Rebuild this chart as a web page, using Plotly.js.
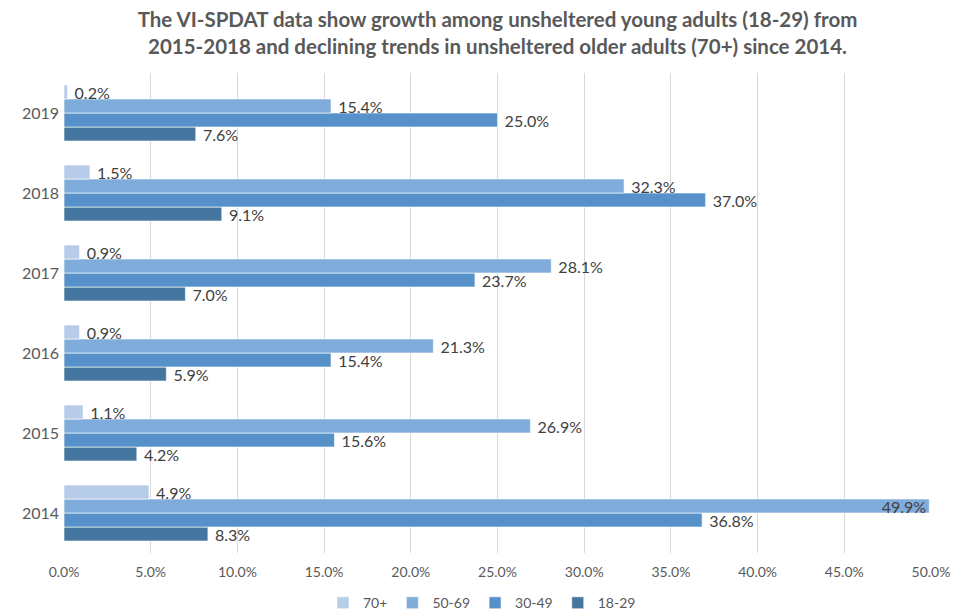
<!DOCTYPE html>
<html>
<head>
<meta charset="utf-8">
<script src="https://cdn.plot.ly/plotly-3.0.1.min.js"></script>
<style>html,body{margin:0;padding:0;background:#fff;}#chart{width:964px;height:613px;}</style>
</head>
<body>
<div id="chart"></div>
<script>
const years = ["2014", "2015", "2016", "2017", "2018", "2019"];
const age18_29 = [8.3, 4.2, 5.9, 7.0, 9.1, 7.6];
const age30_49 = [36.8, 15.6, 15.4, 23.7, 37.0, 25.0];
const age50_69 = [49.9, 26.9, 21.3, 28.1, 32.3, 15.4];
const age70plus = [4.9, 1.1, 0.9, 0.9, 1.5, 0.2];
const seriesNames = ["18-29", "30-49", "50-69", "70+"];
const seriesColors = ["#44769f", "#5692c9", "#80acdc", "#b7cce8"];
const xTicks = [0, 5, 10, 15, 20, 25, 30, 35, 40, 45, 50];
const xMax = 50;

const seriesValues = [age18_29, age30_49, age50_69, age70plus];
const traces = seriesValues.map((vals, i) => ({
  type: "bar",
  orientation: "h",
  name: seriesNames[i],
  y: years,
  x: vals,
  marker: {color: seriesColors[i], line: {color: "rgba(255,255,255,0.6)", width: 1}},
  // labels that would run past the right edge are kept inside the bar end
  text: vals.map(v => (v > xMax - 2 ? "" : "\u00a0") + v.toFixed(1) + "%"),
  textposition: vals.map(v => (v > xMax - 2 ? "inside" : "outside")),
  insidetextanchor: "end",
  constraintext: "none",
  textfont: {family: "Lato, sans-serif", size: 16, color: "#404040"},
  insidetextfont: {family: "Lato, sans-serif", size: 16, color: "#404040"},
  outsidetextfont: {family: "Lato, sans-serif", size: 16, color: "#404040"},
  cliponaxis: false,
  hoverinfo: "x+name"
}));

const layout = {
  width: 964,
  height: 613,
  paper_bgcolor: "#ffffff",
  plot_bgcolor: "#ffffff",
  margin: {l: 64, r: 33, t: 73, b: 60},
  barmode: "group",
  bargap: 0.3,
  bargroupgap: 0,
  title: {
    text: "The VI-SPDAT data show growth among unsheltered young adults (18-29) from<br>2015-2018 and declining trends in unsheltered older adults (70+) since 2014.",
    font: {family: "Lato, sans-serif", size: 20.5, color: "#595959", weight: "bold"},
    x: 0.5, xanchor: "center", xref: "paper",
    y: 0.956, yanchor: "middle", yref: "container",
    automargin: false
  },
  xaxis: {
    range: [0, xMax],
    tickvals: xTicks,
    ticktext: xTicks.map(v => v.toFixed(1) + "%"),
    showgrid: true,
    gridcolor: "#d9d9d9",
    gridwidth: 1,
    zeroline: false,
    showline: false,
    ticks: "",
    tickfont: {family: "Lato, sans-serif", size: 14, color: "#595959"},
    ticklabelstandoff: 9
  },
  yaxis: {
    type: "category",
    categoryorder: "array",
    categoryarray: years,
    showgrid: false,
    zeroline: false,
    showline: false,
    ticks: "",
    tickfont: {family: "Lato, sans-serif", size: 16, color: "#595959"},
    ticklabelstandoff: 4
  },
  showlegend: true,
  legend: {
    orientation: "h",
    traceorder: "reversed",
    xref: "container", yref: "container",
    x: 0.5, xanchor: "center",
    y: 0.016, yanchor: "middle",
    font: {family: "Lato, sans-serif", size: 14, color: "#595959"}
  }
};

Plotly.newPlot("chart", traces, layout, {displayModeBar: false, staticPlot: true});
</script>
</body>
</html>
